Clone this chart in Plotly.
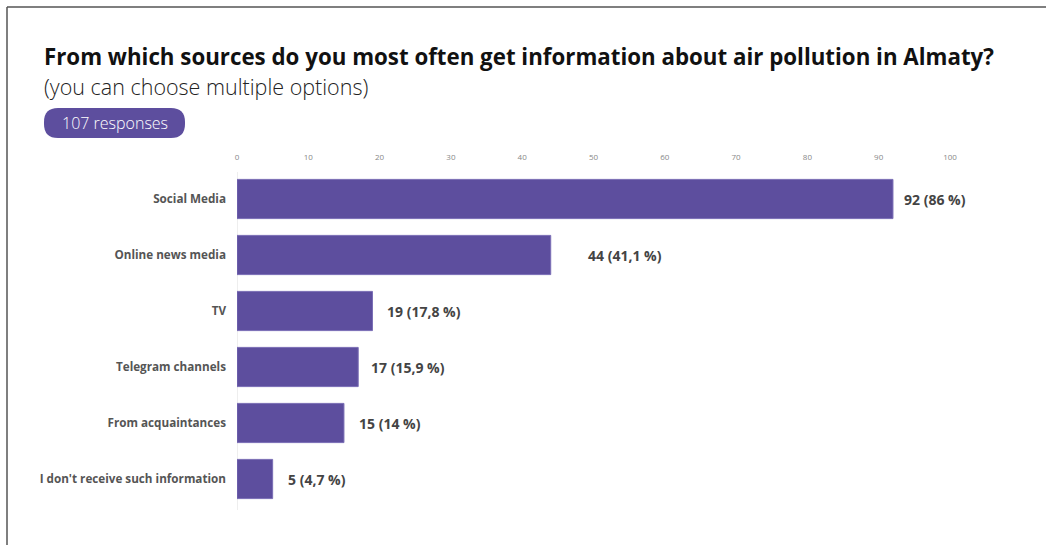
import plotly.graph_objects as go

categories = ["Social Media", "Online news media", "TV", "Telegram channels",
              "From acquaintances", "I don't receive such information"]
counts = [92, 44, 19, 17, 15, 5]
percent_labels = ["86 %", "41,1 %", "17,8 %", "15,9 %", "14 %", "4,7 %"]
tick_values = [0, 10, 20, 30, 40, 50, 60, 70, 80, 90, 100]

W, H = 1046, 545
L, R, T, B = 237, 96, 171, 38
PW, PH = W - L - R, H - T - B

def px(x):
    return (x - L) / PW

def py(y):
    return (H - B - y) / PH

BAR = "#5D4E9E"
FONT = "Open Sans"

fig = go.Figure(go.Bar(
    y=categories, x=counts, orientation="h",
    marker=dict(color=BAR, line=dict(color="#7a6db5", width=1)),
    width=0.7, hoverinfo="skip",
))

label_shift = [9, 35, 13, 11, 13, 13]
annotations = []
for c, v, p, s in zip(categories, counts, percent_labels, label_shift):
    annotations.append(dict(x=v, y=c, xref="x", yref="y", text=f"<b>{v} ({p})</b>",
                            showarrow=False, xanchor="left", xshift=s,
                            font=dict(family=FONT, size=14, color="#444")))

annotations += [
    dict(x=px(42), y=py(56), xref="paper", yref="paper", xanchor="left", yanchor="middle",
         text="<b>From which sources do you most often get information about air pollution in Almaty?</b>",
         showarrow=False, font=dict(family=FONT, size=22.3, color="#111")),
    dict(x=px(42), y=py(86.5), xref="paper", yref="paper", xanchor="left", yanchor="middle",
         text="(you can choose multiple options)", showarrow=False,
         font=dict(family=FONT, size=21.5, color="#222", weight=300)),
    dict(x=px(114.5), y=py(123), xref="paper", yref="paper", xanchor="center", yanchor="middle",
         text="107 responses", showarrow=False,
         font=dict(family=FONT, size=16, color="white", weight=300)),
]

# rounded badge
x0, x1, y0, y1, r = 44, 185, 108, 138, 14
def P(x, y):
    return f"{px(x):.5f},{py(y):.5f}"
path = (f"M {P(x0 + r, y0)} L {P(x1 - r, y0)} Q {P(x1, y0)} {P(x1, y0 + r)} "
        f"L {P(x1, y1 - r)} Q {P(x1, y1)} {P(x1 - r, y1)} L {P(x0 + r, y1)} "
        f"Q {P(x0, y1)} {P(x0, y1 - r)} L {P(x0, y0 + r)} Q {P(x0, y0)} {P(x0 + r, y0)} Z")

shapes = [
    dict(type="path", path=path, xref="paper", yref="paper", fillcolor=BAR, line=dict(width=0)),
    dict(type="line", xref="paper", yref="paper", x0=px(7), x1=px(W), y0=py(7), y1=py(7),
         line=dict(color="#555", width=1.5)),
    dict(type="line", xref="paper", yref="paper", x0=px(7), x1=px(7), y0=py(7), y1=py(H),
         line=dict(color="#555", width=1.5)),
    dict(type="line", xref="x", yref="paper", x0=0, x1=0, y0=py(510), y1=py(172),
         line=dict(color="#dddddd", width=1), layer="below"),
]

fig.update_layout(
    width=W, height=H, margin=dict(l=L, r=R, t=T, b=B, autoexpand=False),
    paper_bgcolor="white", plot_bgcolor="white", showlegend=False,
    annotations=annotations, shapes=shapes,
    xaxis=dict(side="top", range=[0, 100], tickvals=tick_values, showgrid=False,
               zeroline=False, showline=False, ticks="", ticklabelstandoff=8,
               tickfont=dict(family="Liberation Sans Narrow, " + FONT, size=8, color="#888"),
               fixedrange=True),
    yaxis=dict(categoryorder="array", categoryarray=categories[::-1], showgrid=False,
               zeroline=False, showline=False, ticks="", ticklabelstandoff=10,
               tickfont=dict(family=FONT, size=11.7, color="#555", weight="bold"),
               fixedrange=True),
    bargap=0.3,
)

fig.write_html("out.html", config={"displayModeBar": False},
               post_script="document.body.style.margin='0';document.body.style.overflow='hidden';")
